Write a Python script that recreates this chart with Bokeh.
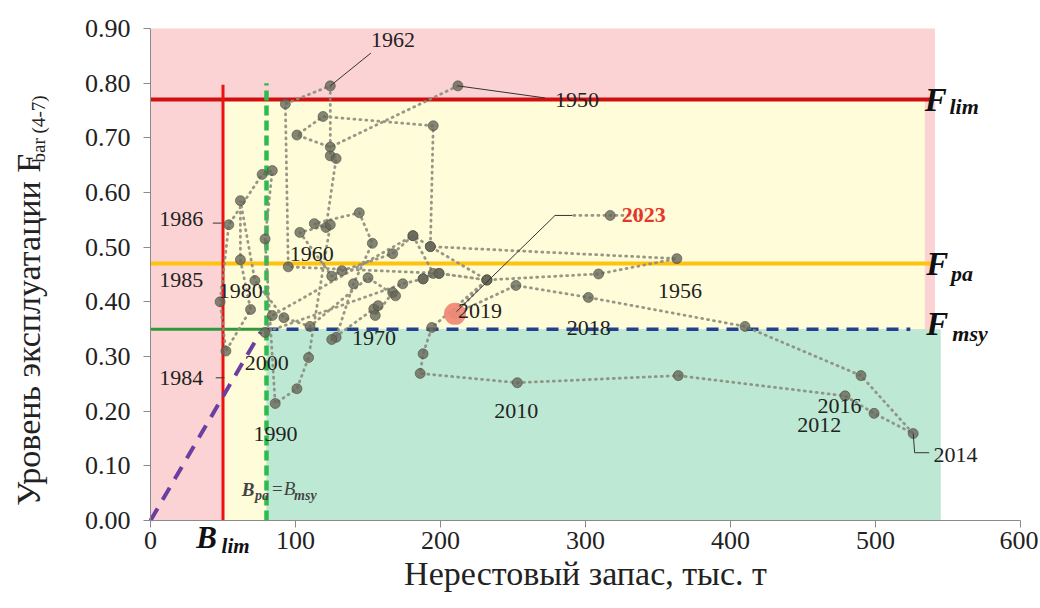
import math
from bokeh.plotting import figure
from bokeh.models import ColumnDataSource, Label, FixedTicker, NumeralTickFormatter
from bokeh.core.properties import value
from bokeh.embed import file_html
from bokeh.resources import INLINE

# ---------------- data ----------------
years = list(range(1950, 2024))
ssb = [212, 124, 101, 119, 195, 193, 363, 309, 232, 199,
       95, 93, 124, 124, 128, 121, 113, 144, 153, 140,
       128, 125, 154, 157, 155, 167, 169, 150, 110, 92,
       72, 62, 62, 69, 52, 48, 54, 77, 84, 79,
       86, 101, 109, 124, 103, 125, 132, 167, 181, 84,
       79, 174, 188, 195, 181, 193, 232, 194, 188, 186,
       253, 364, 479, 499, 526, 490, 410, 302, 252, 210,
       232, 199, 188, 317]
fbar = [0.795, 0.683, 0.705, 0.739, 0.722, 0.501, 0.479, 0.451, 0.440, 0.452,
        0.464, 0.762, 0.795, 0.667, 0.662, 0.536, 0.543, 0.563, 0.507, 0.433,
        0.335, 0.331, 0.387, 0.393, 0.375, 0.417, 0.411, 0.444, 0.355, 0.371,
        0.439, 0.585, 0.477, 0.386, 0.310, 0.400, 0.541, 0.633, 0.640, 0.515,
        0.214, 0.241, 0.298, 0.541, 0.527, 0.447, 0.457, 0.488, 0.521, 0.375,
        0.344, 0.433, 0.442, 0.452, 0.521, 0.501, 0.440, 0.353, 0.305, 0.269,
        0.252, 0.265, 0.228, 0.196, 0.159, 0.265, 0.355, 0.408, 0.430, 0.378,
        0.440, 0.452, 0.442, 0.558]

B_lim = 50
B_pa = 80
F_lim = 0.77
F_pa = 0.47
F_msy = 0.35
hcr_end_b = 76
hcr_end_f = 0.345

labelled_years = [1962, 1950, 1986, 1985, 1980, 1960, 1984, 2000, 1970, 1990,
                  2010, 2019, 2018, 1956, 2016, 2012, 2014]

x_ticks = [0, 100, 200, 300, 400, 500, 600]
y_ticks = [0.0, 0.1, 0.2, 0.3, 0.4, 0.5, 0.6, 0.7, 0.8, 0.9]
x_axis_range = (0, 600)
y_axis_range = (0, 0.9)

x_title = "Нерестовый запас, тыс. т"
y_title = "Уровень эксплуатации  F"
y_title_sub = "bar (4-7)"

# --------------- layout of year labels (data-space positions) -------------
label_pos = {1962: (152, 0.878), 1950: (279, 0.770), 1986: (6, 0.552),
             1985: (6, 0.439), 1980: (47, 0.420), 1960: (96, 0.488),
             1984: (6, 0.261), 2000: (65, 0.289), 1970: (139, 0.333),
             1990: (71, 0.159), 2010: (237, 0.201), 2019: (212, 0.384),
             2018: (287, 0.353), 1956: (350, 0.420), 2016: (460, 0.210),
             2012: (446, 0.174), 2014: (540, 0.119)}

SERIF = "Liberation Serif"

# The frame spans the whole canvas so that the margin texts are not clipped;
# the axes are placed at x=0 / y=0 with the library's fixed_location.
W, H = 1038, 606
PX0, PX_PER = 150.0, 1.45      # canvas x of B=0, pixels per unit of B
PY0, PY_PER = 520.0, 546.7     # canvas y of F=0, pixels per unit of F
xr = (-PX0 / PX_PER, (W - PX0) / PX_PER)
yr = ((PY0 - H) / PY_PER, PY0 / PY_PER)

p = figure(width=W, height=H, x_range=xr, y_range=yr,
           output_backend="svg", toolbar_location=None,
           min_border=0, min_border_left=0, min_border_right=0,
           min_border_top=0, min_border_bottom=0)
p.title.visible = False
p.outline_line_color = None
p.xgrid.visible = False
p.ygrid.visible = False
p.background_fill_color = "white"
p.border_fill_color = "white"

# zones
p.quad(left=0, right=541, bottom=0, top=0.9, fill_color="#fbd3d4", line_color=None)
p.quad(left=B_lim, right=534, bottom=F_msy, top=F_lim, fill_color="#fefcd9", line_color=None)
p.quad(left=B_lim, right=B_pa, bottom=0, top=F_msy, fill_color="#fefcd9", line_color=None)
p.quad(left=B_pa, right=545, bottom=0, top=F_msy, fill_color="#bde9d4", line_color=None)

# reference lines
p.line([0, 539], [F_lim, F_lim], line_color="#d01010", line_width=4)
p.line([0, 540], [F_pa, F_pa], line_color="#ffc20e", line_width=4)
p.line([0, B_pa], [F_msy, F_msy], line_color="#2e9a3c", line_width=3)
p.line([B_pa, 524], [F_msy, F_msy], line_color="#22408f", line_width=3.5, line_dash="12 8")
p.line([B_lim, B_lim], [0, 0.797], line_color="#ee1111", line_width=3)
p.line([B_pa, B_pa], [0, 0.80], line_color="#2cbb4e", line_width=4.5, line_dash="10 5")
p.line([0, hcr_end_b], [0, hcr_end_f], line_color="#6a3fa0", line_width=4, line_dash="14 10")

# trajectory (1950-2022) and points
src = ColumnDataSource(dict(x=ssb[:-1], y=fbar[:-1]))
p.line("x", "y", source=src, line_color="#8c8c7c", line_width=2.8, line_dash="1 5",
       line_cap="round", line_alpha=0.9)
p.line([292, 340], [fbar[-1], fbar[-1]], line_color="#8c8c7c", line_width=2.8,
       line_dash="1 5", line_cap="round", line_alpha=0.9)
p.scatter(ssb, fbar, size=10, fill_color="#67675a", fill_alpha=0.8,
          line_color="#4d4d3e", line_alpha=0.6)

# highlighted 2019 point
i19 = years.index(2019)
p.scatter([ssb[i19]], [fbar[i19]], size=22, fill_color="#f08a78", line_color=None,
          fill_alpha=0.95)

# leader lines
p.line([124, 152], [0.795, 0.855], line_color="#333333", line_width=1)
p.line([212, 272], [0.795, 0.773], line_color="#333333", line_width=1)
p.line([211, 279, 291], [0.382, 0.558, 0.558], line_color="#333333", line_width=1)
p.line([526, 527, 537], [0.159, 0.124, 0.124], line_color="#333333", line_width=1)
p.line([43, 49], [0.544, 0.544], line_color="#333333", line_width=1)
p.line([45, 51], [0.261, 0.261], line_color="#333333", line_width=1)

# year labels
lsrc = ColumnDataSource(dict(x=[label_pos[y][0] for y in labelled_years],
                             y=[label_pos[y][1] for y in labelled_years],
                             t=[str(y) for y in labelled_years]))
p.text("x", "y", text="t", source=lsrc, text_font=value(SERIF), text_font_size="22px",
       text_color="#222222", text_baseline="middle", text_align="left")
p.text([325], [fbar[-1]], text=["2023"], text_font=value(SERIF), text_font_size="22px",
       text_font_style="bold", text_color="#e8352a", text_baseline="middle")


def sub_label(x, y, main, sub, xs, ys, fs_main, fs_sub):
    p.add_layout(Label(x=x, y=y, text=main, text_font=SERIF, text_font_size=fs_main,
                       text_font_style="bold italic", text_baseline="middle",
                       text_color="#111111"))
    p.add_layout(Label(x=xs, y=ys, text=sub, text_font=SERIF, text_font_size=fs_sub,
                       text_font_style="bold italic", text_baseline="middle",
                       text_color="#111111"))


sub_label(534, F_lim, "F", "lim", 551, F_lim - 0.012, "33px", "22px")
sub_label(535, F_pa, "F", "pa", 552, F_pa - 0.018, "33px", "22px")
sub_label(535, F_msy + 0.01, "F", "msy", 553, F_msy - 0.008, "33px", "22px")
sub_label(31.5, -0.031, "B", "lim", 49, -0.046, "31px", "21px")
# B_pa = B_msy
p.add_layout(Label(x=63, y=0.056, text="B", text_font=SERIF, text_font_size="19px",
                   text_font_style="bold italic", text_baseline="middle"))
p.add_layout(Label(x=72, y=0.046, text="pa", text_font=SERIF, text_font_size="14px",
                   text_font_style="bold italic", text_baseline="middle"))
p.add_layout(Label(x=83, y=0.058, text="=B", text_font=SERIF, text_font_size="19px",
                   text_font_style="italic", text_baseline="middle"))
p.add_layout(Label(x=99, y=0.046, text="msy", text_font=SERIF, text_font_size="14px",
                   text_font_style="bold italic", text_baseline="middle"))

# axes (placed at B=0 and F=0)
p.xaxis.fixed_location = 0
p.yaxis.fixed_location = 0
p.xaxis.bounds = x_axis_range
p.yaxis.bounds = y_axis_range
p.xaxis.ticker = FixedTicker(ticks=x_ticks)
p.yaxis.ticker = FixedTicker(ticks=y_ticks)
p.yaxis.formatter = NumeralTickFormatter(format="0.00")
for ax in (p.xaxis[0], p.yaxis[0]):
    ax.major_label_text_font = SERIF
    ax.major_label_text_font_size = "26px"
    ax.major_label_text_color = "#222222"
    ax.axis_line_color = "#8a8a8a"
    ax.major_tick_line_color = "#8a8a8a"
    ax.minor_tick_line_color = None
    ax.major_tick_in = 0
    ax.major_tick_out = 7
p.xaxis.axis_label = x_title
p.xaxis.axis_label_text_font = SERIF
p.xaxis.axis_label_text_font_size = "34px"
p.xaxis.axis_label_text_font_style = "normal"
p.xaxis.axis_label_text_color = "#222222"
p.xaxis.axis_label_standoff = 3
p.xaxis.major_label_standoff = 4
p.yaxis.major_label_standoff = 13

# y title (rotated), main text and subscript
p.add_layout(Label(x=(28 - PX0) / PX_PER, y=0.027, text=y_title, angle=math.pi / 2,
                   text_font=SERIF, text_font_size="34px", text_baseline="middle",
                   text_align="left", text_color="#222222"))
p.add_layout(Label(x=(38 - PX0) / PX_PER, y=0.655, text=y_title_sub, angle=math.pi / 2,
                   text_font=SERIF, text_font_size="19px", text_baseline="middle",
                   text_align="left", text_color="#222222"))

open("out.html", "w").write(file_html(p, INLINE))
